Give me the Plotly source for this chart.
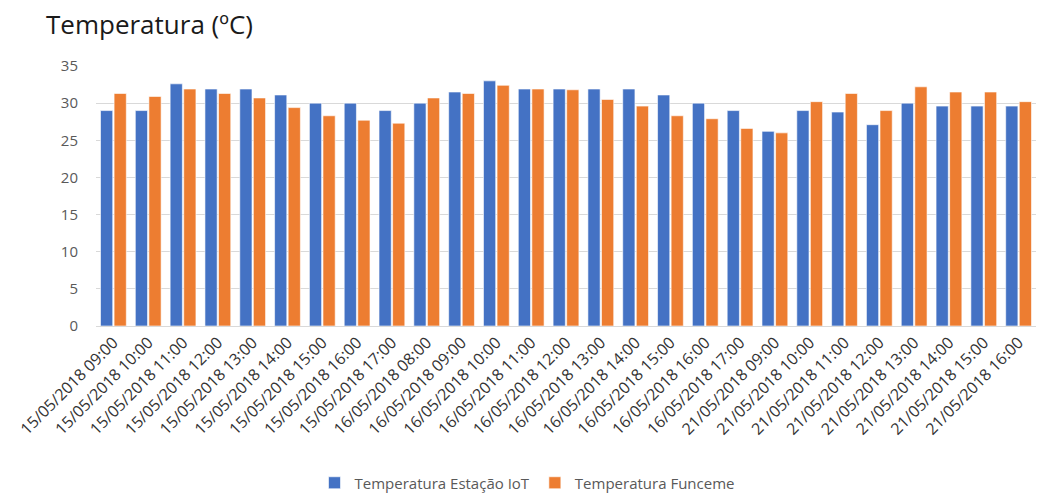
import plotly.graph_objects as go

categories = [
    "15/05/2018 09:00", "15/05/2018 10:00", "15/05/2018 11:00", "15/05/2018 12:00",
    "15/05/2018 13:00", "15/05/2018 14:00", "15/05/2018 15:00", "15/05/2018 16:00",
    "15/05/2018 17:00", "16/05/2018 08:00", "16/05/2018 09:00", "16/05/2018 10:00",
    "16/05/2018 11:00", "16/05/2018 12:00", "16/05/2018 13:00", "16/05/2018 14:00",
    "16/05/2018 15:00", "16/05/2018 16:00", "16/05/2018 17:00", "21/05/2018 09:00",
    "21/05/2018 10:00", "21/05/2018 11:00", "21/05/2018 12:00", "21/05/2018 13:00",
    "21/05/2018 14:00", "21/05/2018 15:00", "21/05/2018 16:00",
]

temp_iot = [29.0, 29.0, 32.6, 31.9, 31.9, 31.1, 30.0, 30.0, 29.0, 30.0, 31.5, 33.0,
            31.9, 31.9, 31.9, 31.9, 31.1, 30.0, 29.0, 26.2, 29.0, 28.8, 27.1, 30.0,
            29.6, 29.6, 29.6]

temp_funceme = [31.3, 30.9, 31.9, 31.3, 30.7, 29.4, 28.3, 27.7, 27.3, 30.7, 31.3, 32.4,
                31.9, 31.8, 30.5, 29.6, 28.3, 27.9, 26.6, 26.0, 30.2, 31.3, 29.0, 32.2,
                31.5, 31.5, 30.2]

y_ticks = [0, 5, 10, 15, 20, 25, 30, 35]

FONT = "Open Sans"
GREY = "#595959"

fig = go.Figure()
fig.add_trace(go.Bar(
    x=categories, y=temp_iot, name="Temperatura Estação IoT",
    marker=dict(color="#4472C4", line=dict(color="rgba(255,255,255,0.6)", width=1)),
))
fig.add_trace(go.Bar(
    x=categories, y=temp_funceme, name="Temperatura Funceme",
    marker=dict(color="#ED7D31", line=dict(color="rgba(255,255,255,0.6)", width=1)),
))

fig.update_layout(
    width=1037, height=494,
    margin=dict(l=96, r=1, t=66, b=168),
    paper_bgcolor="white", plot_bgcolor="white",
    barmode="group", bargap=0.22, bargroupgap=0.1,
    title=dict(text="Temperatura (ºC)", xref="container", yref="container",
               x=46/1037, xanchor="left", y=1-25/494, yanchor="middle",
               font=dict(family=FONT, size=26, color="#1a1a1a")),
    font=dict(family=FONT, size=13, color=GREY),
    legend=dict(orientation="h", xref="container", x=527/1037, xanchor="center",
                yref="container", y=1-483/494, yanchor="middle",
                font=dict(family=FONT, size=15, color=GREY), traceorder="normal"),
    showlegend=True,
)
fig.update_xaxes(
    type="category", tickmode="array", tickvals=categories, ticktext=categories,
    tickangle=-45, tickfont=dict(family=FONT, size=16, color="#333333"),
    showline=True, linecolor="#d9d9d9", linewidth=1, showgrid=False, ticks="",
    automargin=False,
)
fig.update_yaxes(
    range=[0, 35], tickmode="array", tickvals=y_ticks,
    showgrid=True, gridcolor="#d9d9d9", gridwidth=1, zeroline=False,
    tickfont=dict(family=FONT, size=15, color=GREY), ticks="", ticklabelstandoff=17,
    automargin=False,
)

fig.write_html("out.html", config={"displayModeBar": False},
               post_script="document.body.style.margin='0';")
